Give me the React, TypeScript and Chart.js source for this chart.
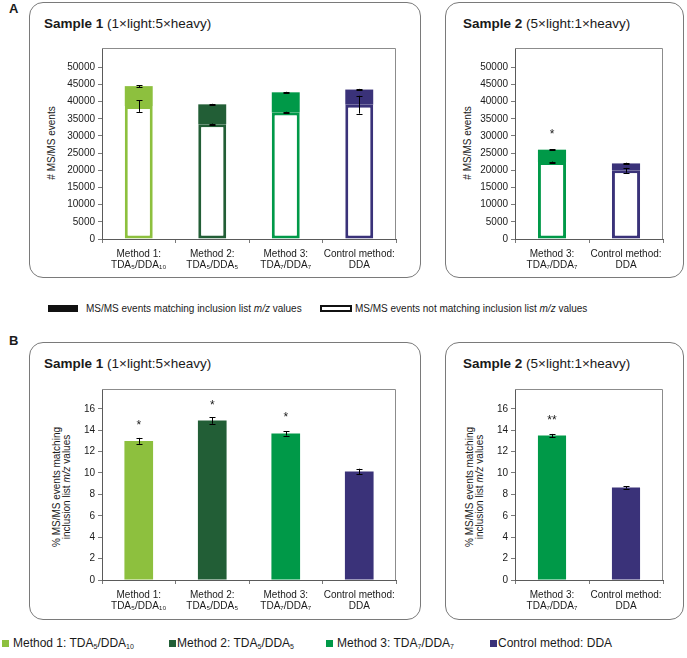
import React, { useEffect, useRef } from "react";
import { Chart, registerables } from "chart.js";

Chart.register(...registerables);

const FONT = "'Liberation Sans', Arial, Helvetica, sans-serif";
const TEXT = "#1a1a1a";

// ---------- data ----------
const categoriesSample1 = [
  ["Method 1:", "TDA₅/DDA₁₀"],
  ["Method 2:", "TDA₅/DDA₅"],
  ["Method 3:", "TDA₇/DDA₇"],
  ["Control method:", "DDA"],
];
const categoriesSample2 = [
  ["Method 3:", "TDA₇/DDA₇"],
  ["Control method:", "DDA"],
];

const eventsTicks = [0, 5000, 10000, 15000, 20000, 25000, 30000, 35000, 40000, 45000, 50000];
const percentTicks = [0, 2, 4, 6, 8, 10, 12, 14, 16];

// Panel A, sample 1 (# MS/MS events)
const s1NotMatching = [38700, 33400, 36800, 39100];
const s1Matching = [5800, 5800, 5900, 4400];
const s1NotMatchingErr = [1700, 200, 250, 2600];
const s1TotalErr = [250, 150, 150, 200];
const s1EventsSig = ["", "", "", ""];

// Panel A, sample 2
const s2NotMatching = [22400, 20000];
const s2Matching = [3600, 2000];
const s2NotMatchingErr = [150, 700];
const s2TotalErr = [150, 200];
const s2EventsSig = ["*", ""];

// Panel B (% matching)
const s1Percent = [13.0, 14.9, 13.7, 10.15];
const s1PercentErr = [0.28, 0.3, 0.2, 0.25];
const s1PercentSig = ["*", "*", "*", ""];
const s2Percent = [13.5, 8.65];
const s2PercentErr = [0.15, 0.1];
const s2PercentSig = ["**", ""];

// ---------- styles ----------
const C_M1 = "#8DC03E";
const C_M2 = "#225E36";
const C_M3 = "#009948";
const C_CTRL = "#3A3279";
const s1Colors = [C_M1, C_M2, C_M3, C_CTRL];
const s2Colors = [C_M3, C_CTRL];

const annotPlugin = {
  id: "annot",
  afterDatasetsDraw(chart: any, _args: any, opts: any) {
    const ctx = chart.ctx;
    const y = chart.scales.y;
    const a = chart.chartArea;
    ctx.save();
    // plot frame (top + right)
    ctx.strokeStyle = "#8c8c8c";
    ctx.lineWidth = 1;
    ctx.beginPath();
    ctx.moveTo(a.left, Math.round(a.top) + 0.5);
    ctx.lineTo(Math.round(a.right) - 0.5, Math.round(a.top) + 0.5);
    ctx.lineTo(Math.round(a.right) - 0.5, a.bottom);
    ctx.stroke();
    // error bars
    ctx.strokeStyle = "#000";
    ctx.lineWidth = 1;
    (opts.errors || []).forEach((e: any) => {
      const meta = chart.getDatasetMeta(e.dataset);
      meta.data.forEach((el: any, i: number) => {
        const err = e.values[i];
        if (!err) return;
        const h = Math.abs(y.getPixelForValue(err) - y.getPixelForValue(0));
        const x = Math.round(el.x) + 0.5;
        const t = el.y - h;
        const b = el.y + h;
        ctx.beginPath();
        ctx.moveTo(x, t);
        ctx.lineTo(x, b);
        ctx.moveTo(x - 3, Math.round(t) + 0.5);
        ctx.lineTo(x + 3, Math.round(t) + 0.5);
        ctx.moveTo(x - 3, Math.round(b) + 0.5);
        ctx.lineTo(x + 3, Math.round(b) + 0.5);
        ctx.stroke();
      });
    });
    // significance marks
    const topMeta = chart.getDatasetMeta(chart.data.datasets.length - 1);
    ctx.font = `12px ${FONT}`;
    ctx.textAlign = "center";
    ctx.textBaseline = "alphabetic";
    ctx.fillStyle = TEXT;
    (opts.sig || []).forEach((s: string, i: number) => {
      if (!s) return;
      const el = topMeta.data[i];
      ctx.fillText(s, el.x, el.y - 12);
    });
    ctx.restore();
  },
};

type Spec = {
  width: number;
  height: number;
  yWidth: number;
  xHeight: number;
  padTop: number;
  padRight: number;
  labels: string[][];
  datasets: any[];
  stacked: boolean;
  yMax: number;
  ticks: number[];
  barPct: number;
  errors: any[];
  sig: string[];
};

function buildConfig(s: Spec): any {
  const tickFont = { family: FONT, size: 10, lineHeight: 1.1 };
  return {
    type: "bar",
    data: {
      labels: s.labels,
      datasets: s.datasets.map((d) => ({
        categoryPercentage: 1,
        barPercentage: s.barPct,
        ...d,
      })),
    },
    options: {
      responsive: false,
      animation: false,
      events: [],
      layout: { padding: { top: s.padTop, right: s.padRight, left: 0, bottom: 0 } },
      plugins: {
        legend: { display: false },
        tooltip: { enabled: false },
        annot: { errors: s.errors, sig: s.sig },
      },
      scales: {
        x: {
          stacked: s.stacked,
          grid: {
            display: true,
            drawOnChartArea: false,
            drawTicks: true,
            tickLength: 4,
            color: "#7a7a7a",
            offset: true,
          },
          border: { display: true, color: "#5a5a5a", width: 1 },
          ticks: {
            color: TEXT,
            font: tickFont,
            padding: 6,
            maxRotation: 0,
            minRotation: 0,
            autoSkip: false,
          },
          afterFit: (sc: any) => {
            sc.height = s.xHeight;
          },
        },
        y: {
          stacked: s.stacked,
          min: 0,
          max: s.yMax,
          grid: {
            display: true,
            drawOnChartArea: false,
            drawTicks: true,
            tickLength: 4,
            color: "#7a7a7a",
          },
          border: { display: true, color: "#5a5a5a", width: 1 },
          ticks: {
            color: TEXT,
            font: tickFont,
            padding: 3,
            callback: (v: any) => String(v),
          },
          afterBuildTicks: (sc: any) => {
            sc.ticks = s.ticks.map((v) => ({ value: v }));
          },
          afterFit: (sc: any) => {
            sc.width = s.yWidth;
          },
        },
      },
    },
    plugins: [annotPlugin],
  };
}

function BarChart({ spec, left, top }: { spec: Spec; left: number; top: number }) {
  const ref = useRef<HTMLCanvasElement>(null);
  useEffect(() => {
    const chart = new Chart(ref.current as HTMLCanvasElement, buildConfig(spec));
    return () => chart.destroy();
  }, []);
  return (
    <div style={{ position: "absolute", left, top, width: spec.width, height: spec.height }}>
      <canvas
        ref={ref}
        width={spec.width}
        height={spec.height}
        style={{ width: spec.width, height: spec.height, display: "block" }}
      />
    </div>
  );
}

function stackedDatasets(notMatching: number[], matching: number[], colors: string[]) {
  return [
    {
      label: "MS/MS events not matching inclusion list m/z values",
      data: notMatching,
      backgroundColor: "#ffffff",
      borderColor: colors,
      borderWidth: 3,
      borderSkipped: false,
    },
    {
      label: "MS/MS events matching inclusion list m/z values",
      data: matching,
      backgroundColor: colors,
      borderWidth: 0,
    },
  ];
}

const specA1: Spec = {
  width: 385, height: 246, yWidth: 72, xHeight: 37, padTop: 18, padRight: 19,
  labels: categoriesSample1,
  datasets: stackedDatasets(s1NotMatching, s1Matching, s1Colors),
  stacked: true, yMax: 55600, ticks: eventsTicks, barPct: 0.38,
  errors: [
    { dataset: 0, values: s1NotMatchingErr },
    { dataset: 1, values: s1TotalErr },
  ],
  sig: s1EventsSig,
};

const specA2: Spec = {
  width: 225, height: 246, yWidth: 65, xHeight: 37, padTop: 18, padRight: 12,
  labels: categoriesSample2,
  datasets: stackedDatasets(s2NotMatching, s2Matching, s2Colors),
  stacked: true, yMax: 55600, ticks: eventsTicks, barPct: 0.38,
  errors: [
    { dataset: 0, values: s2NotMatchingErr },
    { dataset: 1, values: s2TotalErr },
  ],
  sig: s2EventsSig,
};

const specB1: Spec = {
  width: 385, height: 247, yWidth: 72, xHeight: 37, padTop: 19, padRight: 19,
  labels: categoriesSample1,
  datasets: [
    {
      label: "% MS/MS events matching inclusion list m/z values",
      data: s1Percent,
      backgroundColor: s1Colors,
      borderWidth: 0,
    },
  ],
  stacked: false, yMax: 17.85, ticks: percentTicks, barPct: 0.39,
  errors: [{ dataset: 0, values: s1PercentErr }],
  sig: s1PercentSig,
};

const specB2: Spec = {
  width: 225, height: 247, yWidth: 65, xHeight: 37, padTop: 19, padRight: 12,
  labels: categoriesSample2,
  datasets: [
    {
      label: "% MS/MS events matching inclusion list m/z values",
      data: s2Percent,
      backgroundColor: s2Colors,
      borderWidth: 0,
    },
  ],
  stacked: false, yMax: 17.85, ticks: percentTicks, barPct: 0.38,
  errors: [{ dataset: 0, values: s2PercentErr }],
  sig: s2PercentSig,
};

// ---------- HTML helpers ----------
const abs = (left: number, top: number, extra: any = {}) => ({
  position: "absolute" as const,
  left,
  top,
  ...extra,
});

function Box({ left, top, right, bottom }: any) {
  return (
    <div
      style={abs(left, top, {
        width: right - left,
        height: bottom - top,
        border: "1px solid #7a7a7a",
        borderRadius: 14,
        boxSizing: "border-box",
      })}
    />
  );
}

function Title({ left, top, sample, ratio }: any) {
  return (
    <div style={abs(left, top, { fontSize: 13.5, lineHeight: "16px", whiteSpace: "nowrap", color: TEXT })}>
      <b>{sample}</b> {ratio}
    </div>
  );
}

function YTitle({ cx, cy, children }: any) {
  return (
    <div
      style={abs(cx, cy, {
        transform: "translate(-50%, -50%) rotate(-90deg)",
        fontSize: 10,
        lineHeight: "10px",
        whiteSpace: "nowrap",
        textAlign: "center",
        color: TEXT,
      })}
    >
      {children}
    </div>
  );
}

const subStyle = { fontSize: 7, verticalAlign: "-2px", lineHeight: 0 };

function LegendItem({ left, sqLeft, color, children }: any) {
  return (
    <>
      <div style={abs(sqLeft, 640, { width: 7, height: 7, background: color })} />
      <div style={abs(left, 636, { fontSize: 12, lineHeight: "14px", whiteSpace: "nowrap", color: TEXT })}>
        {children}
      </div>
    </>
  );
}

export default function App() {
  return (
    <div
      style={{
        position: "absolute",
        left: 0,
        top: 0,
        width: 687,
        height: 658,
        background: "#ffffff",
        fontFamily: FONT,
        overflow: "hidden",
      }}
    >
      {/* Panel A */}
      <div style={abs(9, 1, { fontSize: 13, fontWeight: "bold", lineHeight: "15px", color: TEXT })}>A</div>
      <Box left={29} top={2} right={421} bottom={278} />
      <Box left={445} top={2} right={684} bottom={278} />
      <Title left={44} top={16} sample="Sample 1" ratio="(1×light:5×heavy)" />
      <Title left={463} top={16} sample="Sample 2" ratio="(5×light:1×heavy)" />
      <YTitle cx={52} cy={143}># MS/MS events</YTitle>
      <YTitle cx={468} cy={143}># MS/MS events</YTitle>
      <BarChart spec={specA1} left={30} top={30} />
      <BarChart spec={specA2} left={450} top={30} />

      {/* Legend A */}
      <div style={abs(48, 305, { width: 30, height: 7, background: "#111" })} />
      <div style={abs(86, 302.5, { fontSize: 10, lineHeight: "12px", whiteSpace: "nowrap", color: TEXT })}>
        MS/MS events matching inclusion list <i>m/z</i> values
      </div>
      <div
        style={abs(320, 305, {
          width: 32,
          height: 7,
          background: "#fff",
          border: "2px solid #111",
          boxSizing: "border-box",
        })}
      />
      <div style={abs(355, 302.5, { fontSize: 10, lineHeight: "12px", whiteSpace: "nowrap", color: TEXT })}>
        MS/MS events not matching inclusion list <i>m/z</i> values
      </div>

      {/* Panel B */}
      <div style={abs(9, 333, { fontSize: 13, fontWeight: "bold", lineHeight: "15px", color: TEXT })}>B</div>
      <Box left={29} top={342} right={421} bottom={620} />
      <Box left={445} top={342} right={684} bottom={620} />
      <Title left={44} top={356} sample="Sample 1" ratio="(1×light:5×heavy)" />
      <Title left={463} top={356} sample="Sample 2" ratio="(5×light:1×heavy)" />
      <YTitle cx={62} cy={487}>
        % MS/MS events matching
        <br />
        inclusion list <i>m/z</i> values
      </YTitle>
      <YTitle cx={475} cy={487}>
        % MS/MS events matching
        <br />
        inclusion list <i>m/z</i> values
      </YTitle>
      <BarChart spec={specB1} left={30} top={370} />
      <BarChart spec={specB2} left={450} top={370} />

      {/* Bottom legend */}
      <LegendItem sqLeft={2} left={13} color={C_M1}>
        Method 1: TDA<sub style={subStyle}>5</sub>/DDA<sub style={subStyle}>10</sub>
      </LegendItem>
      <LegendItem sqLeft={169} left={177} color={C_M2}>
        Method 2: TDA<sub style={subStyle}>5</sub>/DDA<sub style={subStyle}>5</sub>
      </LegendItem>
      <LegendItem sqLeft={326} left={337} color={C_M3}>
        Method 3: TDA<sub style={subStyle}>7</sub>/DDA<sub style={subStyle}>7</sub>
      </LegendItem>
      <LegendItem sqLeft={490} left={498} color={C_CTRL}>
        Control method: DDA
      </LegendItem>
    </div>
  );
}
